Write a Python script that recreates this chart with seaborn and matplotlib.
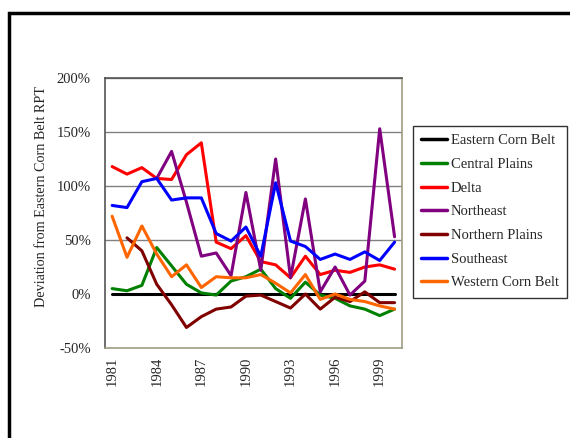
import matplotlib
matplotlib.use("Agg")
import matplotlib.pyplot as plt
import numpy as np
import pandas as pd
import seaborn as sns
from matplotlib.patches import Rectangle
from matplotlib.transforms import Bbox
from matplotlib.ticker import PercentFormatter

years = list(range(1981, 2001))
regions = ["Eastern Corn Belt", "Central Plains", "Delta", "Northeast",
           "Northern Plains", "Southeast", "Western Corn Belt"]
colors = ["#000000", "#008000", "#ff0000", "#800080", "#800000", "#0000ff", "#ff6600"]

nan = np.nan
eastern_corn_belt = [0] * 20
central_plains = [5, 3, 8, 43, 26, 9, 1, -1, 12, 16, 23, 5, -4, 11, -1, -4, -11, -14, -20, -14]
delta = [118, 111, 117, 107, 106, 129, 140, 48, 42, 54, 30, 27, 15, 35, 18, 22, 20, 25, 27, 23]
northeast = [nan, nan, nan, 107, 132, 85, 35, 38, 17, 94, 22, 125, 15, 88, 2, 25, -1, 12, 153, 53]
northern_plains = [nan, 52, 40, 9, -10, -31, -21, -14, -12, -2, -1, -7, -13, 0, -14, -3, -7, 2, -8, -8]
southeast = [82, 80, 104, 107, 87, 89, 89, 56, 49, 62, 35, 103, 49, 44, 32, 37, 32, 39, 31, 48]
western_corn_belt = [72, 34, 63, 37, 16, 27, 6, 16, 15, 15, 18, 10, 1, 18, -5, 0, -5, -7, -11, -14]

series = [eastern_corn_belt, central_plains, delta, northeast,
          northern_plains, southeast, western_corn_belt]
df = pd.DataFrame({
    "year": years * len(regions),
    "region": [r for r in regions for _ in years],
    "value": [v for s in series for v in s],
})

sns.set_style("white")
plt.rcParams["font.family"] = ["Liberation Serif", "DejaVu Serif"]
plt.rcParams["axes.unicode_minus"] = False

W, H = 570, 438
fig = plt.figure(figsize=(W / 100, H / 100), dpi=100)
ax = fig.add_axes([104.7 / W, 1 - 348 / H, (402 - 104.7) / W, (348 - 78) / H])

# outer chart frame (cropped on the right and bottom)
fig.patches.append(Rectangle((9 / W, -0.1), 1.2, 1 - 13 / H + 0.1,
                             transform=fig.transFigure, fill=False,
                             edgecolor="black", linewidth=2.5, zorder=0))

for y in [50, 100, 150, 200]:
    ax.axhline(y, color="#808080", linewidth=1, zorder=0)

sns.lineplot(data=df, x="year", y="value", hue="region", hue_order=regions,
             palette=colors, linewidth=2.2, ax=ax, legend=True)
for line in ax.lines:
    if line.get_label() == "Eastern Corn Belt":
        line.set_linewidth(2.8)

ax.set_xlim(1980.5, 2000.5)
ax.set_ylim(-50, 200)
ax.set_yticks([-50, 0, 50, 100, 150, 200])
ax.yaxis.set_major_formatter(PercentFormatter(decimals=0))
ax.set_xticks(years[::3])
ax.set_xticklabels([str(y) for y in years[::3]], rotation=90)
ax.tick_params(axis="both", labelsize=10.5, length=0)
ax.tick_params(axis="x", pad=6)
ax.tick_params(axis="y", pad=10)
ax.set_xlabel("")
ax.set_ylabel("")

# y title, clipped at the top like the original text box
ylab = fig.text(42 / W, 1 - 307 / H, "Deviation from Eastern Corn Belt RPTM",
                rotation=90, ha="center", va="bottom", fontsize=10.2)
ylab.set_clip_box(Bbox.from_extents(0, 0, W, H - 87))
ylab.set_clip_on(True)

for side in ["left", "top"]:
    ax.spines[side].set_color("#555555")
for side in ["right", "bottom"]:
    ax.spines[side].set_color("#9d9d83")
for s in ax.spines.values():
    s.set_linewidth(1.2)

handles, labels = ax.get_legend_handles_labels()
leg = ax.legend(handles, labels, loc="upper left",
                bbox_to_anchor=(413 / W, 1 - 126 / H), bbox_transform=fig.transFigure,
                fontsize=10.5, frameon=True, fancybox=False, edgecolor="black",
                handlelength=1.8, handletextpad=0.25, labelspacing=0.72,
                borderpad=0.55, borderaxespad=0)
leg.get_frame().set_linewidth(1.0)
for h in leg.get_lines():
    h.set_linewidth(2.5)

fig.savefig("out.png", dpi=100)
